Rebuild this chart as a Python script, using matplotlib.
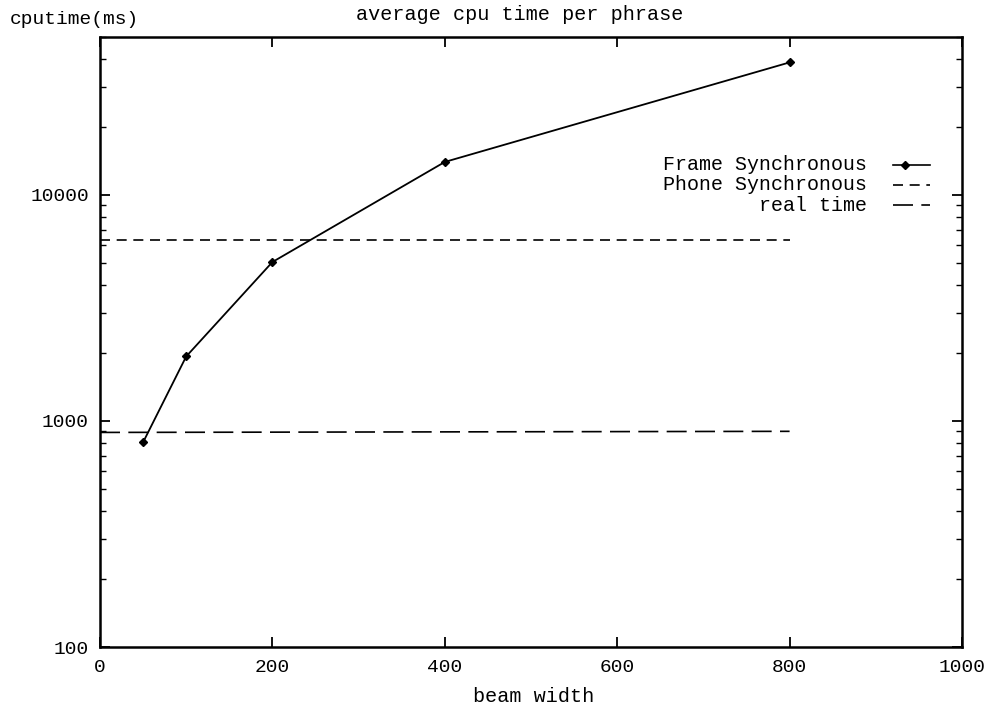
import matplotlib
matplotlib.use("Agg")
import matplotlib.pyplot as plt
from matplotlib.lines import Line2D
from matplotlib.ticker import LogLocator, NullFormatter, FixedLocator

beam = [50, 100, 200, 400, 800]
frame_sync = [805, 1930, 5050, 14000, 38600]
phone_x = [0, 800]
phone_sync = [6300, 6300]
real_x = [0, 800]
real_time = [890, 900]
xticks = [0, 200, 400, 600, 800, 1000]
yticks = [100, 1000, 10000]
labels = ["Frame Synchronous", "Phone Synchronous", "real time"]

FONT = ["Liberation Mono", "DejaVu Sans Mono"]
plt.rcParams['font.family'] = FONT

fig = plt.figure(figsize=(9.92, 7.10), dpi=100)
ax = fig.add_axes([100/992, 1-647/710, 862/992, (647-37)/710])

ax.plot(beam, frame_sync, color="black", lw=1.3, marker="D", ms=4.5)
ax.plot(phone_x, phone_sync, color="black", lw=1.2, dashes=(6, 4))
ax.plot(real_x, real_time, color="black", lw=1.2, dashes=(12, 5))

ax.set_yscale("log")
ax.set_xlim(0, 1000)
ax.set_ylim(100, 50000)
ax.xaxis.set_major_locator(FixedLocator(xticks))
ax.set_xticklabels([str(t) for t in xticks])
ax.yaxis.set_major_locator(FixedLocator(yticks))
ax.set_yticklabels([str(t) for t in yticks])
ax.yaxis.set_minor_locator(LogLocator(base=10, subs=range(2, 10)))
ax.yaxis.set_minor_formatter(NullFormatter())
ax.tick_params(which="both", direction="in", top=True, right=True, labelsize=14, colors="black")
ax.tick_params(which="major", length=7, width=1.3, pad=9)
ax.tick_params(which="minor", length=4, width=1.0)
ax.tick_params(axis="y", which="major", pad=8)
for s in ax.spines.values():
    s.set_linewidth(1.8)

fig.text(520/992, 1-15/710, "average cpu time per phrase", ha="center", va="center", fontsize=14.5)
fig.text(10/992, 1-20/710, "cputime(ms)", ha="left", va="center", fontsize=14)
fig.text(534/992, 1-696/710, "beam width", ha="center", va="center", fontsize=14.5)

# legend (drawn manually, right-aligned text like the original)
ys = [165, 185, 205]
styles = [dict(marker="D", ms=4.5), dict(dashes=(6, 4)), dict(dashes=(12, 5))]
for lab, y, st in zip(labels, ys, styles):
    fy = 1 - y/710
    fig.text(867/992, fy, lab, ha="right", va="center", fontsize=14.4)
    if "marker" in st:
        fig.add_artist(Line2D([893/992, 930/992], [fy, fy], transform=fig.transFigure,
                              color="black", lw=1.2))
        fig.add_artist(Line2D([905/992], [fy], transform=fig.transFigure,
                              color="black", lw=0, **st))
    else:
        fig.add_artist(Line2D([893/992, 930/992], [fy, fy], transform=fig.transFigure,
                              color="black", lw=1.2, **st))

fig.savefig("out.png", dpi=100)
